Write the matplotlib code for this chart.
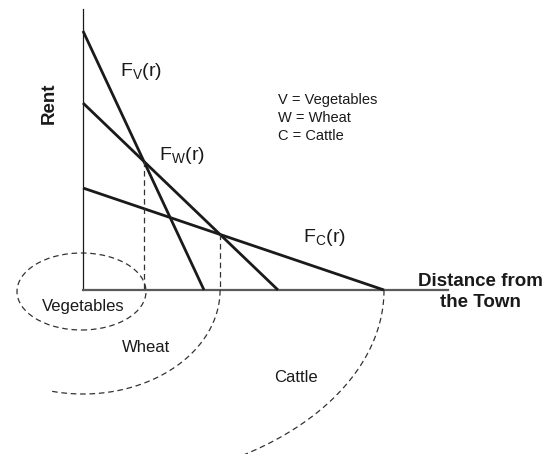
import numpy as np
import matplotlib
matplotlib.use("Agg")
from matplotlib import pyplot as plt
from matplotlib.patches import Ellipse

plt.rcParams['font.family'] = ['Liberation Sans', 'DejaVu Sans']

# bid-rent lines: rent at the town and distance where rent hits zero
crops = ['V', 'W', 'C']
rent_at_town = [25.9, 18.7, 10.2]
zero_rent_dist = [12.1, 19.5, 30.1]
legend_lines = ['V = Vegetables', 'W = Wheat', 'C = Cattle']
zone_names = ['Vegetables', 'Wheat', 'Cattle']

fig = plt.figure(figsize=(5.48, 4.54), dpi=100)
ax = fig.add_axes([0, 0, 1, 1])
ax.set_xlim(-8.3, 46.5)
ax.set_ylim(-16.4, 29.0)
ax.axis('off')

ink = '#1a1a1a'
dash = dict(color='#333333', lw=0.9, ls=(0, (4.5, 3)))

# axes
ax.plot([0, 0], [0, 28.1], color=ink, lw=0.9)
ax.plot([0, 36.5], [0, 0], color='#5a5a5a', lw=1.6)

for a, b in zip(rent_at_town, zero_rent_dist):
    ax.plot([0, b], [a, 0], color=ink, lw=2.0, solid_capstyle='butt')

# intersections of neighbouring lines
def cross(i, j):
    s1 = rent_at_town[i] / zero_rent_dist[i]
    s2 = rent_at_town[j] / zero_rent_dist[j]
    x = (rent_at_town[i] - rent_at_town[j]) / (s1 - s2)
    return x, rent_at_town[i] - s1 * x

xvw, yvw = cross(0, 1)
xwc, ywc = cross(1, 2)
ax.plot([xvw, xvw], [yvw, 0], **dash)
ax.plot([xwc, xwc], [ywc, 0], **dash)

# ring zones
ax.add_patch(Ellipse((-0.15, -0.15), 12.9, 7.7, fill=False, **dash))
t = np.radians(np.linspace(0, -103, 100))
ax.plot(xwc * np.cos(t), 10.4 * np.sin(t), **dash)
t = np.radians(np.linspace(0, -70, 100))
ax.plot(zero_rent_dist[2] * np.cos(t), 19.5 * np.sin(t), **dash)

# labels
ax.text(5.8, 21.8, r'F$_\mathregular{V}$(r)', fontsize=14, ha='center', va='center', color=ink)
ax.text(9.9, 13.4, r'F$_\mathregular{W}$(r)', fontsize=14, ha='center', va='center', color=ink)
ax.text(24.1, 5.2, r'F$_\mathregular{C}$(r)', fontsize=14, ha='center', va='center', color=ink)

for k, s in enumerate(legend_lines):
    ax.text(19.5, 19.0 - 1.8 * k, s, fontsize=10.5, ha='left', va='center', color=ink)

ax.text(-3.4, 18.7, 'Rent', fontsize=13.5, fontweight='bold', rotation=90,
        ha='center', va='center', color=ink)
ax.text(39.7, -0.2, 'Distance from\nthe Town', fontsize=13.5, fontweight='bold',
        ha='center', va='center', linespacing=1.3, color=ink)

zone_pos = [(0, -1.7), (6.3, -5.8), (21.3, -8.8)]
for name, (x, y) in zip(zone_names, zone_pos):
    ax.text(x, y, name, fontsize=12, ha='center', va='center', color=ink)

fig.savefig('out.png', dpi=100)
